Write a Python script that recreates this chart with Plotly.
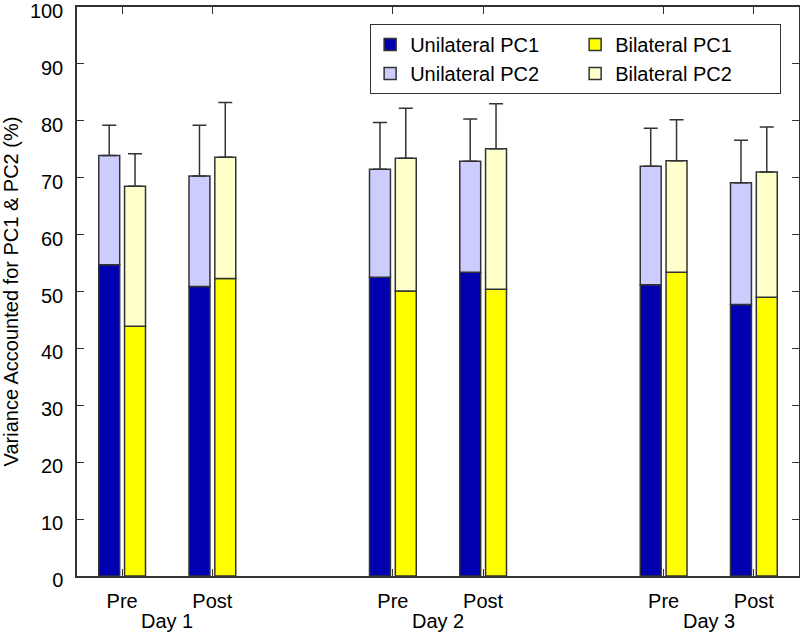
import plotly.graph_objects as go

# ---- data ----
sessions = ["Pre", "Post", "Pre", "Post", "Pre", "Post"]
session_pos = [1, 2, 4, 5, 7, 8]
days = ["Day 1", "Day 2", "Day 3"]
day_pos = [1.5, 4.5, 7.5]

uni_pc1 = [54.7, 50.9, 52.5, 53.4, 51.2, 47.7]
uni_pc2 = [19.2, 19.4, 19.0, 19.5, 20.8, 21.4]
uni_err = [5.3, 8.9, 8.2, 7.4, 6.7, 7.5]

bi_pc1 = [43.9, 52.3, 50.1, 50.4, 53.4, 49.0]
bi_pc2 = [24.6, 21.3, 23.3, 24.7, 19.6, 22.0]
bi_err = [5.7, 9.6, 8.8, 7.9, 7.2, 7.9]

y_ticks = [0, 10, 20, 30, 40, 50, 60, 70, 80, 90, 100]

# ---- style ----
FONT = "Liberation Sans, Arial, sans-serif"
EDGE = "#333333"
C_UNI1, C_UNI2 = "#0000B0", "#CCCCFF"
C_BI1, C_BI2 = "#FFFF00", "#FFFFCC"
OFF = 0.143
W = 0.232

x_uni = [p - OFF for p in session_pos]
x_bi = [p + OFF for p in session_pos]

fig = go.Figure()

def add_bar(x, y, base, color, name, group, err=None):
    kw = {}
    if err is not None:
        kw["error_y"] = dict(type="data", array=err, arrayminus=[0] * len(err),
                             symmetric=False, color=EDGE, thickness=1.5, width=7)
    fig.add_trace(go.Bar(
        x=x, y=y, base=base, width=W, name=name, legendgroup=group,
        marker=dict(color=color, line=dict(color=EDGE, width=1.5)),
        **kw))

add_bar(x_uni, uni_pc1, None, C_UNI1, "Unilateral PC1", "uni")
add_bar(x_uni, uni_pc2, uni_pc1, C_UNI2, "Unilateral PC2", "uni", uni_err)
add_bar(x_bi, bi_pc1, None, C_BI1, "Bilateral PC1", "bi")
add_bar(x_bi, bi_pc2, bi_pc1, C_BI2, "Bilateral PC2", "bi", bi_err)

for d, p in zip(days, day_pos):
    fig.add_annotation(x=p, y=0, xref="x", yref="paper", text=d, showarrow=False,
                       yshift=-32, yanchor="top", font=dict(size=20, color="#000"))

fig.update_layout(
    width=800, height=634,
    margin=dict(l=77, r=1, t=7, b=58, autoexpand=False),
    paper_bgcolor="white", plot_bgcolor="white",
    barmode="overlay",
    font=dict(family=FONT, size=20, color="#000"),
    showlegend=True,
    legend=dict(
        orientation="h", traceorder="grouped",
        x=0.406, y=0.97, xanchor="left", yanchor="top",
        bgcolor="white", bordercolor=EDGE, borderwidth=1,
        font=dict(size=20, color="#000"), tracegroupgap=9,
        entrywidth=160,
    ),
    xaxis=dict(
        range=[0.5, 8.5], tickmode="array", tickvals=session_pos, ticktext=sessions,
        ticks="inside", ticklen=7, tickcolor=EDGE, mirror="ticks",
        showline=True, linecolor=EDGE, linewidth=1.5, showgrid=False, zeroline=False,
        tickfont=dict(size=20), automargin=False, ticklabelstandoff=6,
    ),
    yaxis=dict(
        range=[0, 100], tickmode="array", tickvals=y_ticks,
        ticks="inside", ticklen=7, tickcolor=EDGE, mirror="ticks",
        showline=True, linecolor=EDGE, linewidth=1.5, showgrid=False, zeroline=False,
        tickfont=dict(size=20), automargin=False, ticklabeloverflow="allow",
        ticklabelstandoff=8, ticklabelshift=4,
        title=dict(text="Variance Accounted for PC1 & PC2 (%)", font=dict(size=20), standoff=8),
    ),
)

fig.write_html("out.html", config={"displayModeBar": False},
               post_script="document.body.style.margin='0';")
